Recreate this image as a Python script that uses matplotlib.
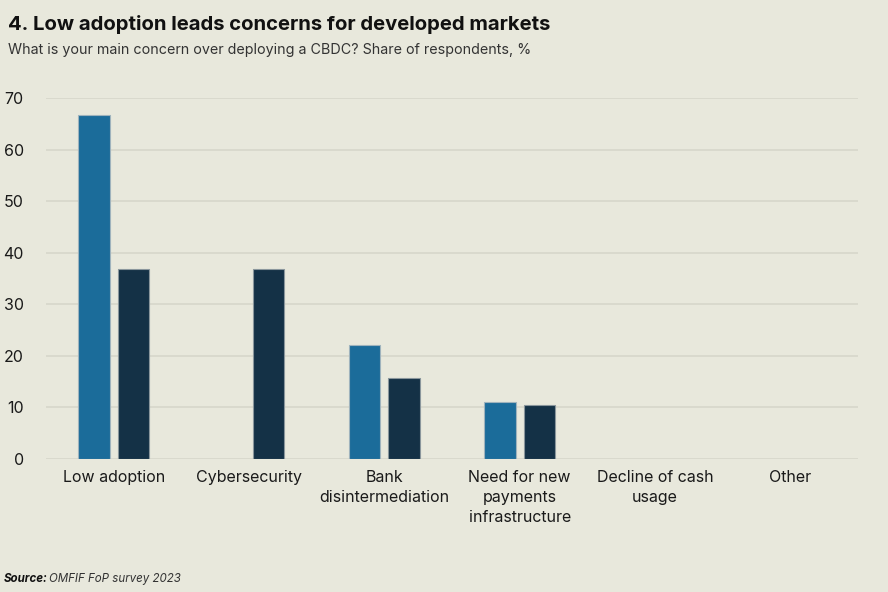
import matplotlib.pyplot as plt
import numpy as np

categories = ["Low adoption", "Cybersecurity", "Bank\ndisintermediation",
              "Need for new\npayments\ninfrastructure", "Decline of cash\nusage", "Other"]
series_a = [66.7, 0, 22.2, 11.1, 0, 0]
series_b = [36.8, 36.8, 15.8, 10.5, 0, 0]
yticks = [0, 10, 20, 30, 40, 50, 60, 70]

BG = "#e8e8dc"
BLUE = "#1b6c9a"
NAVY = "#143146"

plt.rcParams['font.family'] = ['Inter', 'DejaVu Sans']

fig = plt.figure(figsize=(8.88, 5.92), dpi=100, facecolor=BG)
ax = fig.add_axes([46 / 888, 133 / 592, 812 / 888, 361 / 592])
ax.set_facecolor(BG)

x = np.arange(len(categories))
w = 0.23
off = 0.145
for xi, v in zip(x, series_a):
    if v > 0:
        ax.bar(xi - off, v, w, color=BLUE, edgecolor="#9fb3bd", linewidth=0.8, zorder=3)
for xi, v in zip(x, series_b):
    if v > 0:
        ax.bar(xi + off, v, w, color=NAVY, edgecolor="#8a969c", linewidth=0.8, zorder=3)

ax.set_xlim(-0.5, len(categories) - 0.5)
ax.set_ylim(0, 70)
ax.set_yticks(yticks)
ax.yaxis.grid(True, color="#d6d6ca", linewidth=1.2, zorder=0)
for s in ax.spines.values():
    s.set_visible(False)
ax.tick_params(axis="both", length=0, labelsize=11.5, colors="#1a1a1a")
ax.tick_params(axis="y", pad=16)
ax.tick_params(axis="x", pad=8)
ax.set_xticks(x)
ax.set_xticklabels(categories, linespacing=1.4)

fig.text(8 / 888, 1 - 25 / 592, "4. Low adoption leads concerns for developed markets",
         fontsize=14.6, fontweight="bold", color="#111111", va="center")
fig.text(8 / 888, 1 - 50 / 592,
         "What is your main concern over deploying a CBDC? Share of respondents, %",
         fontsize=10.3, color="#333333", va="center")
fig.text(4 / 888, 1 - 579 / 592, "Source:", fontsize=8.3, fontweight="bold",
         style="italic", color="#111111", va="center")
fig.text(49 / 888, 1 - 579 / 592, "OMFIF FoP survey 2023", fontsize=8.3,
         style="italic", color="#333333", va="center")

fig.savefig("out.png", dpi=100, facecolor=BG)
